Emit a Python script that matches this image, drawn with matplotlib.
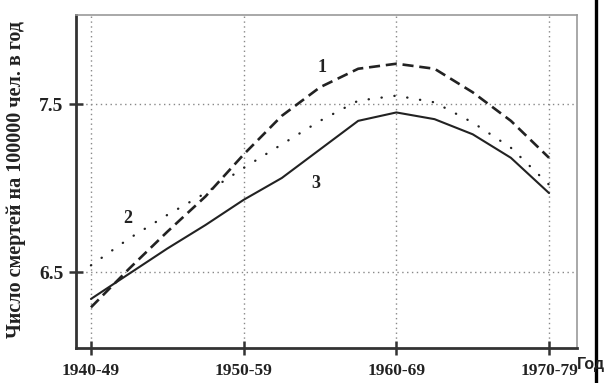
import matplotlib
matplotlib.use("Agg")
import matplotlib.pyplot as plt
from matplotlib.lines import Line2D

# Data
periods = ["1940-49", "1950-59", "1960-69", "1970-79"]
x_pos = [0, 0.25, 0.5, 0.75, 1.0, 1.25, 1.5, 1.75, 2.0, 2.25, 2.5, 2.75, 3.0]
curve1 = [6.29, 6.52, 6.74, 6.95, 7.20, 7.43, 7.60, 7.71, 7.74, 7.71, 7.57, 7.40, 7.18]
curve2 = [6.54, 6.70, 6.84, 6.97, 7.12, 7.26, 7.40, 7.52, 7.55, 7.51, 7.39, 7.24, 7.02]
curve3 = [6.34, 6.49, 6.64, 6.78, 6.93, 7.06, 7.23, 7.40, 7.45, 7.41, 7.32, 7.18, 6.97]
y_ticks = [6.5, 7.5]
y_tick_labels = ["6.5", "7.5"]
ylabel = "Число смертей на 100000 чел. в год"
xlabel = "Год"

serif = ["Liberation Serif", "DejaVu Serif"]

fig = plt.figure(figsize=(6.04, 3.83), dpi=100)
fig.patch.set_facecolor("white")
ax = fig.add_axes([76/604, 1-348/383, (577-76)/604, (348-15)/383])

ax.plot(x_pos, curve1, color="#222222", lw=1.9, linestyle=(0, (4.2, 2.2)), dash_capstyle="butt")
ax.plot(x_pos, curve2, color="#222222", lw=1.7, linestyle=(0, (0.1, 5.4)), dash_capstyle="round")
ax.plot(x_pos, curve3, color="#222222", lw=1.5, solid_capstyle="round")

ax.set_xlim(-0.098, 3.183)
ax.set_ylim(6.048, 8.03)

ax.set_xticks(range(len(periods)))
ax.set_xticklabels(periods, family=serif, fontweight="bold", fontsize=12.5, color="#222222")
ax.set_yticks(y_ticks)
ax.set_yticklabels(y_tick_labels, family=serif, fontweight="bold", fontsize=14, color="#222222")
ax.tick_params(direction="inout", length=10, width=1.8, color="#333333", pad=4)
ax.tick_params(axis="x", pad=6)

ax.grid(True, linestyle=(0, (1, 2.5)), color="#888888", lw=1.0)

for s in ["left", "bottom"]:
    ax.spines[s].set_linewidth(2.0)
    ax.spines[s].set_color("#333333")
for s in ["top", "right"]:
    ax.spines[s].set_linewidth(1.2)
    ax.spines[s].set_color("#999999")

ax.set_ylabel(ylabel, family=serif, fontweight="bold", fontsize=14.5, color="#222222")
ax.yaxis.set_label_coords(-0.1, 0.505)

ax.text(1.51, 7.72, "1", family=serif, fontweight="bold", fontsize=13, color="#222222", ha="center", va="center")
ax.text(0.24, 6.82, "2", family=serif, fontweight="bold", fontsize=13, color="#222222", ha="center", va="center")
ax.text(1.47, 7.03, "3", family=serif, fontweight="bold", fontsize=13, color="#222222", ha="center", va="center")

fig.text(577/604, 1-365/383, xlabel, family=["Liberation Sans", "DejaVu Sans"], fontweight="bold",
         fontsize=11.5, color="#222222", ha="left", va="center")

fig.add_artist(Line2D([596/604, 596/604], [0, 1], color="black", lw=2.4, transform=fig.transFigure))

fig.savefig("out.png", dpi=100, facecolor="white")
